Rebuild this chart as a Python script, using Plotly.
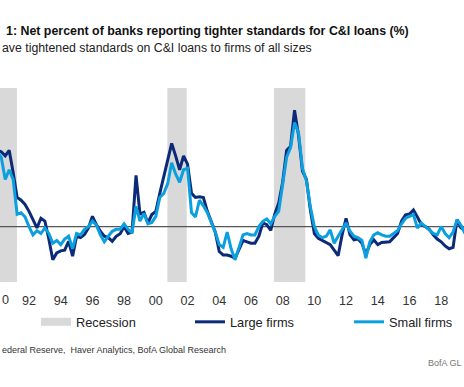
import plotly.graph_objects as go

# ---------------- data ----------------
# quarterly observations starting 1990 Q1
start_year = 1990.0
large_firms = [55, 54, 51, 55, 39, 21, 19, 16, 11, 5,
               -1, 6, 4, -9, -24, -19, -17.5, -17, -10.6, -21.4,
               -7, -8, -5.8, -1, 7.4, 1.4, -3.4, -7, -8, -10.6,
               -7, -5.2, 0, -5, -4, 37, 9, 10.3, 2.6, 8.7,
               11, 24, 36, 50, 60, 51, 41, 51, 45, 24,
               21, 21.5, 21, 11, 4, -4, -18, -20.5, -20.5, -21.4,
               -23, -17, -10, -11, -12, -12, -7, 2.6, 1.4, -2.7,
               9, 17, 32, 55, 58, 84, 66, 40, 34, 12,
               -5, -8.4, -10, -11.5, -13, -17, -21, -6, 6, -6,
               -9.6, -9, -12, -20, -13, -9.6, -13, -11.5, -11, -11,
               -8, -5, 4, 8.5, 9, 12, 7, 1.4, 0, -2,
               -6, -9, -11, -14, -16, -15, 5, -1, -2.5]
small_firms = [54, 50, 34, 41, 34, 9, 10, 7, 0, -6,
               -3, -5, -1, -5, -12, -10, -13, -9, -7, -16,
               -5, -6, -2, 0, 4, 1, -6, -11, -7, -3.4,
               -2, -2, 2, -2, -4.5, 14.6, 4, 9.4, 2, 3,
               7.4, 21, 24, 31, 46, 38, 32, 41, 42, 10,
               7, 19, 15, 10, 3, -4, -13, -15, -4, -16,
               -24, -15, -6, -5, -6, -6, 0, 3.8, 5.5, 2,
               7.4, 11, 30, 50, 57, 75, 68, 42, 33, 14,
               0, -6, -8, -7, -2.4, -12, -7, -2, 2.6, -3.4,
               -7, -8, -10, -22.8, -11, -6, -4.5, -6, -7, -7,
               -5, -3, 2, 6, 7.4, 8.7, -1, 2.6, 0, -2.4,
               -5, -6, 0, -5, -8, -4, 5, 1, -5]
recession_start = [1989.9, 2000.73, 2007.45]
recession_end = [1991.24, 2001.95, 2009.43]
tick_years = [1992, 1994, 1996, 1998, 2000, 2002, 2004, 2006, 2008, 2010,
              2012, 2014, 2016, 2018]
tick_labels = ["92", "94", "96", "98", "00", "02", "04", "06", "08", "10",
               "12", "14", "16", "18"]

X_RANGE = [1990.17, 2019.44]
Y_RANGE = [-40, 100]

quarters = [start_year + 0.25 * i for i in range(len(large_firms))]

NAVY = "#0B2A78"
LIGHT = "#0C9FE0"
GREY = "#D9D9D9"
FONT = "Liberation Sans, Arial, sans-serif"

# recession shading polygons
rx, ry = [], []
for s, e in zip(recession_start, recession_end):
    rx += [s, s, e, e, s, None]
    ry += [Y_RANGE[0], Y_RANGE[1], Y_RANGE[1], Y_RANGE[0], Y_RANGE[0], None]

fig = go.Figure()
fig.add_trace(go.Scatter(x=rx, y=ry, fill="toself", mode="none",
                         fillcolor=GREY, showlegend=False, hoverinfo="skip"))
# legend swatch for recession
fig.add_trace(go.Scatter(x=[None], y=[None], mode="lines", name="Recession",
                         line=dict(color=GREY, width=8), legend="legend"))
# zero line
fig.add_trace(go.Scatter(x=X_RANGE, y=[0, 0], mode="lines",
                         line=dict(color="#555555", width=1.3),
                         showlegend=False, hoverinfo="skip"))
fig.add_trace(go.Scatter(x=quarters, y=large_firms, mode="lines", name="Large firms",
                         line=dict(color=NAVY, width=3), legend="legend2"))
fig.add_trace(go.Scatter(x=quarters, y=small_firms, mode="lines", name="Small firms",
                         line=dict(color=LIGHT, width=3), legend="legend3"))

W, H = 464, 387
T, B = 88, 105
PH = H - T - B


def py(ypix):
    return (H - B - ypix) / PH


def leg(xpix):
    return dict(x=(xpix - 5) / W, xanchor="left", y=py(322), yanchor="middle",
                orientation="h", bgcolor="rgba(0,0,0,0)", borderwidth=0,
                font=dict(family=FONT, size=12.8, color="#222222"),
                tracegroupgap=0, itemwidth=30)


fig.update_layout(
    width=W, height=H,
    margin=dict(l=0, r=0, t=T, b=B, pad=0),
    paper_bgcolor="white", plot_bgcolor="white",
    xaxis=dict(range=X_RANGE, tickvals=tick_years, ticktext=tick_labels,
               showgrid=False, zeroline=False, showline=False, ticks="",
               ticklabelstandoff=9,
               tickfont=dict(family=FONT, size=12.6, color="#333333")),
    yaxis=dict(range=Y_RANGE, visible=False),
    legend=leg(41), legend2=leg(195), legend3=leg(354),
    annotations=[
        dict(text="<b>1: Net percent of banks reporting tighter standards for C&I loans (%)</b>",
             xref="paper", yref="paper", x=4 / W, y=py(31), xanchor="left", yanchor="middle",
             showarrow=False, font=dict(family=FONT, size=12.4, color="#111111")),
        dict(text="ave tightened standards on C&I loans to firms of all sizes",
             xref="paper", yref="paper", x=0, y=py(48), xanchor="left", yanchor="middle",
             showarrow=False, font=dict(family=FONT, size=12.3, color="#222222")),
        dict(text="0", xref="paper", yref="paper", x=0, y=py(300), xanchor="left",
             yanchor="middle", showarrow=False,
             font=dict(family=FONT, size=12.6, color="#333333")),
        dict(text="ederal Reserve,  Haver Analytics, BofA Global Research",
             xref="paper", yref="paper", x=0, y=py(350), xanchor="left", yanchor="middle",
             showarrow=False, font=dict(family=FONT, size=9, color="#333333")),
        dict(text="BofA GL", xref="paper", yref="paper", x=1, y=py(363),
             xanchor="right", yanchor="middle", showarrow=False,
             font=dict(family=FONT, size=9, color="#777777")),
    ],
)

fig.write_html("out.html", config={"displayModeBar": False},
               post_script="document.body.style.margin='0';document.body.style.overflow='hidden';")
